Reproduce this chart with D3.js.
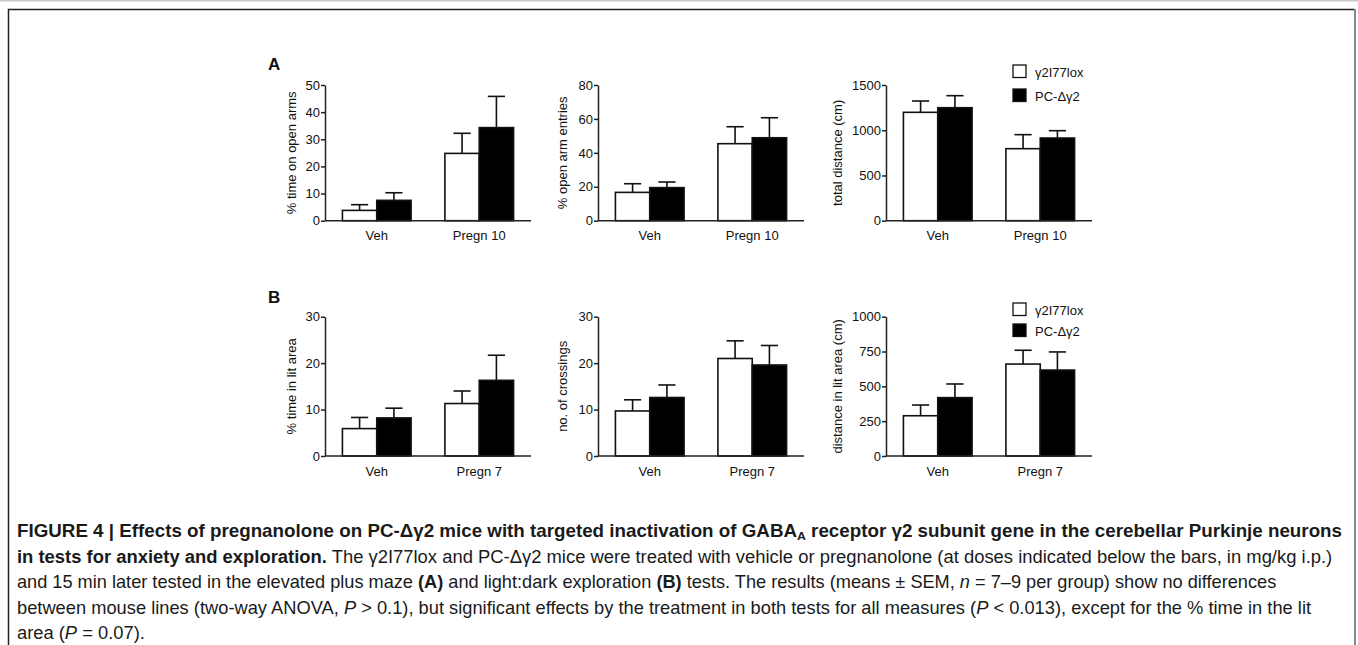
<!DOCTYPE html>
<html lang="en">
<head>
<meta charset="UTF-8">
<title>Figure 4 - pregnanolone</title>
<script src="https://d3js.org/d3.v7.min.js"></script>
<style>
  body { margin: 0; background: #fff; }
  svg { display: block; }
  .tick text { font-family: "Liberation Sans", Arial, Helvetica, sans-serif; font-size: 13px; fill: #111; }
  .lbl { font-family: "Liberation Sans", Arial, Helvetica, sans-serif; font-size: 13px; fill: #111; }
  .cap { font-family: "Liberation Sans Narrow", "Liberation Sans", Arial, sans-serif; font-size: 17.5px; fill: #1a1a1a; }
</style>
</head>
<body>
<div id="chart"></div>
<script>
// groups and series
const seriesNames = ["γ2I77lox", "PC-Δγ2"];
const dosesA = ["Veh", "Pregn 10"];
const dosesB = ["Veh", "Pregn 7"];

// means / SEM, one row per dose, one value per series
const openArmTimeMean = [[3.8, 7.5], [24.8, 34.3]];
const openArmTimeSem  = [[2.1, 2.8], [7.4, 11.5]];
const openArmEntriesMean = [[16.7, 19.5], [45.4, 48.9]];
const openArmEntriesSem  = [[5.1, 3.3], [10.0, 11.8]];
const totalDistanceMean = [[1198, 1249], [796, 914]];
const totalDistanceSem  = [[125, 133], [155, 81]];
const litTimeMean = [[5.9, 8.2], [11.3, 16.3]];
const litTimeSem  = [[2.4, 2.1], [2.7, 5.4]];
const crossingsMean = [[9.7, 12.6], [21.0, 19.6]];
const crossingsSem  = [[2.4, 2.7], [3.8, 4.2]];
const litDistanceMean = [[289, 419], [660, 617]];
const litDistanceSem  = [[77, 98], [99, 130]];

// tick labels
const ticksA1 = [0, 10, 20, 30, 40, 50];
const ticksA2 = [0, 20, 40, 60, 80];
const ticksA3 = [0, 500, 1000, 1500];
const ticksB1 = [0, 10, 20, 30];
const ticksB2 = [0, 10, 20, 30];
const ticksB3 = [0, 250, 500, 750, 1000];

const plots = [
  {row: 0, col: 0, title: "% time on open arms", doses: dosesA, mean: openArmTimeMean, sem: openArmTimeSem, ticks: ticksA1},
  {row: 0, col: 1, title: "% open arm entries", doses: dosesA, mean: openArmEntriesMean, sem: openArmEntriesSem, ticks: ticksA2},
  {row: 0, col: 2, title: "total distance (cm)", doses: dosesA, mean: totalDistanceMean, sem: totalDistanceSem, ticks: ticksA3},
  {row: 1, col: 0, title: "% time in lit area", doses: dosesB, mean: litTimeMean, sem: litTimeSem, ticks: ticksB1},
  {row: 1, col: 1, title: "no. of crossings", doses: dosesB, mean: crossingsMean, sem: crossingsSem, ticks: ticksB2},
  {row: 1, col: 2, title: "distance in lit area (cm)", doses: dosesB, mean: litDistanceMean, sem: litDistanceSem, ticks: ticksB3}
];

// layout
const width = 1358, height = 645;
const rows = [
  {letter: "A", y0: 220.7, yTop: 85, letterY: 70, legendY: 65, legendStep: 24},
  {letter: "B", y0: 456, yTop: 316.7, letterY: 303, legendY: 303, legendStep: 21}
];
const colLeft = [325, 598, 886];
const colW = 206;
const titleOffset = [33.5, 36, 48.5];

const svg = d3.select("#chart").append("svg")
  .attr("width", width)
  .attr("height", height);

// page edge + frame
svg.append("line")
  .attr("x1", 0).attr("x2", width).attr("y1", 0.75).attr("y2", 0.75)
  .attr("stroke", "#c8c8c8").attr("stroke-width", 1.5);
svg.append("path")
  .attr("d", `M8.5,${height} V9.5 H1354.5`)
  .attr("fill", "none").attr("stroke", "#222").attr("stroke-width", 1.5);
svg.append("line")
  .attr("x1", 1355).attr("x2", 1355).attr("y1", 9).attr("y2", height)
  .attr("stroke", "#888").attr("stroke-width", 2);

const color = d3.scaleOrdinal().domain(seriesNames).range(["#fff", "#000"]);

rows.forEach(r => {
  svg.append("text")
    .attr("x", 268).attr("y", r.letterY)
    .attr("font-family", "Liberation Sans, Arial, sans-serif")
    .attr("font-weight", "bold").attr("font-size", 17)
    .attr("fill", "#111")
    .text(r.letter);
});

plots.forEach(p => {
  const r = rows[p.row];
  const left = colLeft[p.col];
  const g = svg.append("g");

  const x = d3.scaleBand()
    .domain(p.doses)
    .range([left, left + colW])
    .paddingInner(0.33)
    .paddingOuter(0.17);
  const xs = d3.scaleBand()
    .domain(seriesNames)
    .range([0, x.bandwidth()]);
  const y = d3.scaleLinear()
    .domain([0, d3.max(p.ticks)])
    .range([r.y0, r.yTop]);

  const rowsData = [];
  p.doses.forEach((d, i) => seriesNames.forEach((s, j) => {
    rowsData.push({dose: d, series: s, mean: p.mean[i][j], sem: p.sem[i][j]});
  }));

  // error bars (upper only)
  const eb = g.append("g").attr("stroke", "#111").attr("stroke-width", 1.6);
  rowsData.forEach(d => {
    const cx = x(d.dose) + xs(d.series) + xs.bandwidth() / 2;
    const cw = xs.bandwidth() / 2;
    eb.append("line")
      .attr("x1", cx).attr("x2", cx)
      .attr("y1", y(d.mean)).attr("y2", y(d.mean + d.sem));
    eb.append("line")
      .attr("x1", cx - cw / 2).attr("x2", cx + cw / 2)
      .attr("y1", y(d.mean + d.sem)).attr("y2", y(d.mean + d.sem));
  });

  // bars
  g.append("g")
    .selectAll("rect")
    .data(rowsData)
    .join("rect")
      .attr("x", d => x(d.dose) + xs(d.series))
      .attr("y", d => y(d.mean))
      .attr("width", xs.bandwidth())
      .attr("height", d => y(0) - y(d.mean))
      .attr("fill", d => color(d.series))
      .attr("stroke", "#111")
      .attr("stroke-width", 1.6);

  // y axis
  g.append("g")
    .attr("transform", `translate(${left},0)`)
    .call(d3.axisLeft(y).tickValues(p.ticks).tickFormat(d3.format("d"))
      .tickSize(4).tickSizeOuter(0).tickPadding(1))
    .call(a => a.selectAll("path, line").attr("stroke", "#222").attr("stroke-width", 1.5));

  // x axis line + labels
  g.append("line")
    .attr("x1", left).attr("x2", left + colW)
    .attr("y1", r.y0).attr("y2", r.y0)
    .attr("stroke", "#222").attr("stroke-width", 1.5);
  g.append("g")
    .selectAll("text")
    .data(p.doses)
    .join("text")
      .attr("class", "lbl")
      .attr("text-anchor", "middle")
      .attr("x", d => x(d) + x.bandwidth() / 2)
      .attr("y", r.y0 + 19.5)
      .text(d => d);

  // y title
  g.append("text")
    .attr("class", "lbl")
    .attr("text-anchor", "middle")
    .attr("transform", `translate(${left - titleOffset[p.col]},${(r.y0 + r.yTop) / 2}) rotate(-90)`)
    .attr("dy", "0.35em")
    .text(p.title);

  // legend on the right column
  if (p.col === 2) {
    const lg = g.append("g").attr("transform", `translate(1013,${r.legendY})`);
    seriesNames.forEach((s, i) => {
      lg.append("rect")
        .attr("x", 0).attr("y", i * r.legendStep)
        .attr("width", 13).attr("height", 12.5)
        .attr("fill", color(s)).attr("stroke", "#111").attr("stroke-width", 1.3);
      lg.append("text")
        .attr("class", "lbl")
        .attr("x", 22).attr("y", i * r.legendStep + 11.5)
        .text(s);
    });
  }
});

// caption
const capLines = [
  {y: 537, w: 1326, parts: [
    {t: "FIGURE 4 | Effects of pregnanolone on PC-Δγ2 mice with targeted inactivation of GABA", b: 1},
    {t: "A", b: 1, sub: 1},
    {t: " receptor γ2 subunit gene in the cerebellar Purkinje neurons", b: 1}]},
  {y: 562.5, w: 1316, parts: [
    {t: "in tests for anxiety and exploration.", b: 1},
    {t: " The γ2I77lox and PC-Δγ2 mice were treated with vehicle or pregnanolone (at doses indicated below the bars, in mg/kg i.p.)"}]},
  {y: 588, w: 1261, parts: [
    {t: "and 15 min later tested in the elevated plus maze "}, {t: "(A)", b: 1},
    {t: " and light:dark exploration "}, {t: "(B)", b: 1},
    {t: " tests. The results (means ± SEM, "}, {t: "n", i: 1},
    {t: " = 7–9 per group) show no differences"}]},
  {y: 613.5, w: 1295, parts: [
    {t: "between mouse lines (two-way ANOVA, "}, {t: "P", i: 1},
    {t: " > 0.1), but significant effects by the treatment in both tests for all measures ("}, {t: "P", i: 1},
    {t: " < 0.013), except for the % time in the lit"}]},
  {y: 639, w: 128, parts: [
    {t: "area ("}, {t: "P", i: 1}, {t: " = 0.07)."}]}
];

capLines.forEach(line => {
  const t = svg.append("text").attr("class", "cap").attr("x", 0).attr("y", 0);
  line.parts.forEach(pt => {
    const s = t.append("tspan").text(pt.t);
    if (pt.b) s.attr("font-weight", "bold");
    if (pt.i) s.attr("font-style", "italic");
    if (pt.sub) s.attr("font-size", "11.5px").attr("baseline-shift", "-3");
  });
  const w = t.node().getBBox().width;
  t.attr("transform", `translate(17,${line.y}) scale(${line.w / w},1)`);
});
</script>
</body>
</html>
